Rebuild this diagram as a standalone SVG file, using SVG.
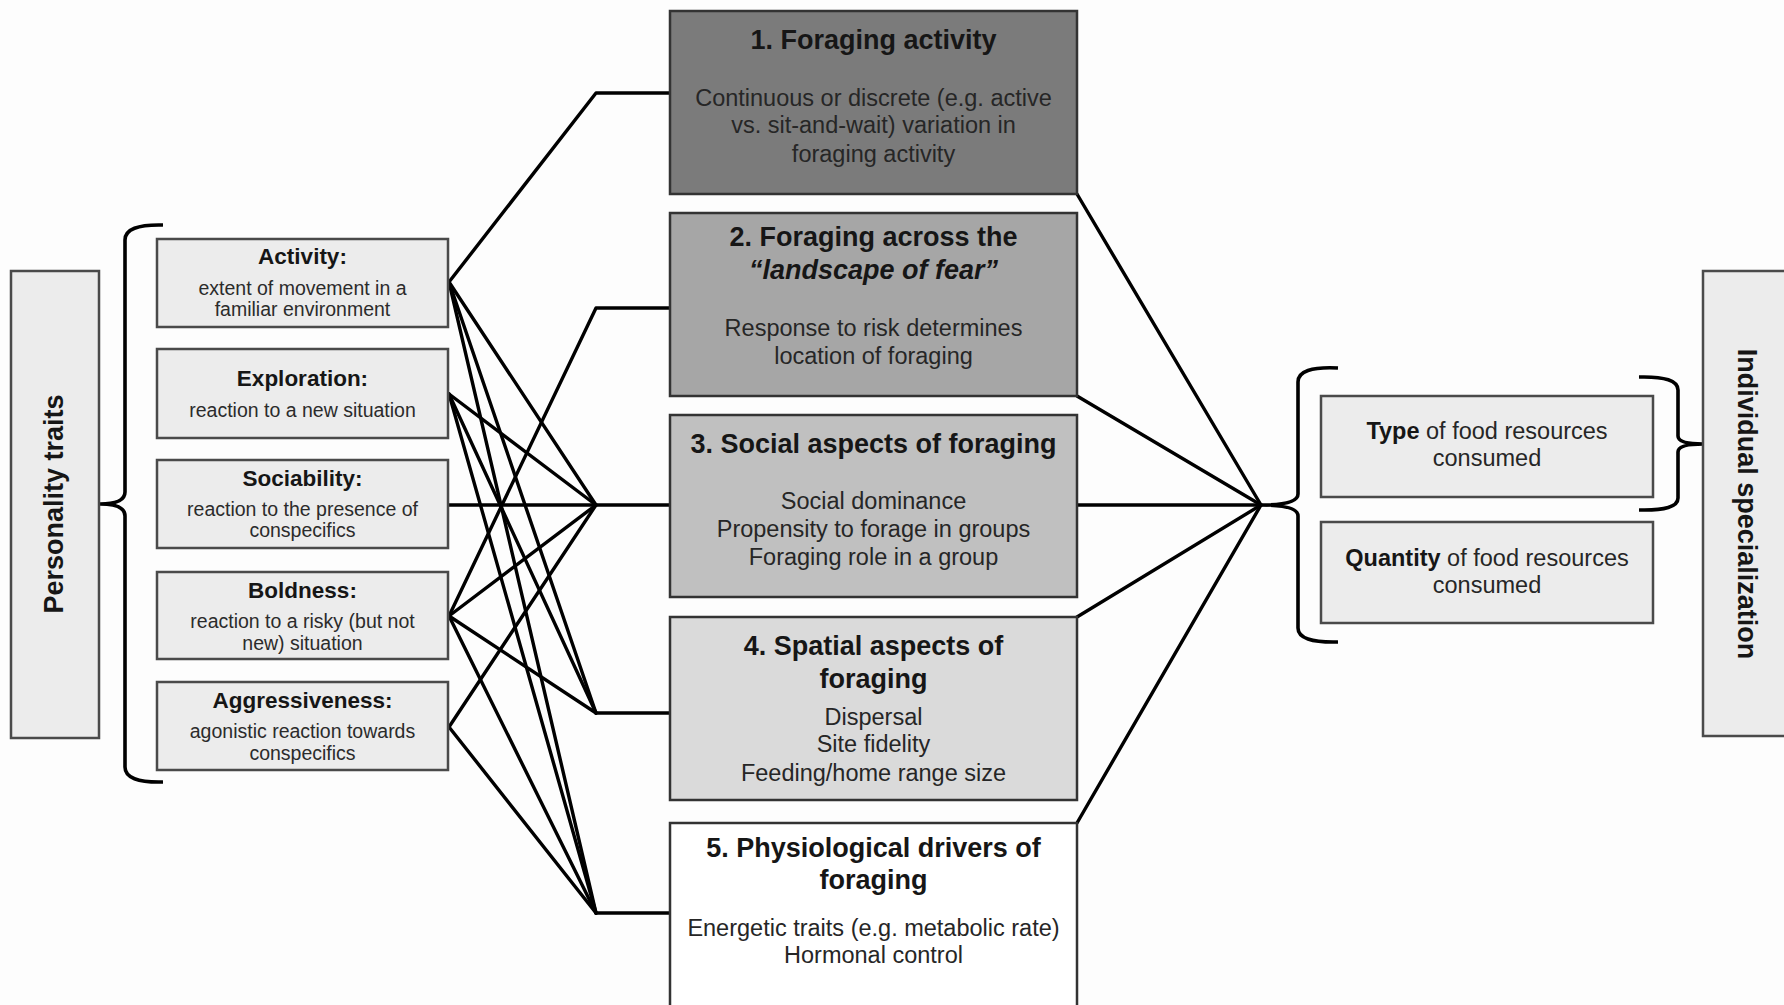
<svg xmlns="http://www.w3.org/2000/svg" width="1784" height="1005" viewBox="0 0 1784 1005">
<style>
.bg{fill:#fdfdfd}
.trait rect{fill:#ececec;stroke:#4a4a4a;stroke-width:2.5}
.side{fill:#ececec;stroke:#4a4a4a;stroke-width:2.5}
.cbox{stroke:#333;stroke-width:2.5}
.res rect{fill:#ececec;stroke:#4a4a4a;stroke-width:2.5}
text{font-family:"Liberation Sans",Arial,sans-serif;text-anchor:middle}
.tt{font-weight:bold;font-size:22.5px;fill:#161616}
.ts{font-size:19.5px;fill:#2b2b2b}
.ct{font-weight:bold;font-size:27px;fill:#161616}
.cb{font-size:23.5px;fill:#262626}
.big{font-weight:bold;font-size:27px;fill:#161616}
.rb{font-size:23.5px;fill:#262626}
.rb tspan.b{font-weight:bold;fill:#161616}
.ln{fill:none;stroke:#000;stroke-width:3.4;stroke-linejoin:round;stroke-linecap:round}
.br{fill:none;stroke:#000;stroke-width:3.6;stroke-linejoin:round}
</style>
<rect class="bg" x="0" y="0" width="1784" height="1005"/>

<g id="connectors">
  <path class="ln" d="M449,282 L596,93 L670,93"/>
  <path class="ln" d="M449,616 L596,308 L670,308"/>
  <path class="ln" d="M449,505 L670,505"/>
  <path class="ln" d="M596,713 L670,713"/>
  <path class="ln" d="M596,913 L670,913"/>
  <path class="ln" d="M449,282 L596,505"/>
  <path class="ln" d="M449,282 L596,713"/>
  <path class="ln" d="M449,282 L596,913"/>
  <path class="ln" d="M449,394 L596,505"/>
  <path class="ln" d="M449,394 L596,713"/>
  <path class="ln" d="M449,394 L596,913"/>
  <path class="ln" d="M449,616 L596,505"/>
  <path class="ln" d="M449,616 L596,713"/>
  <path class="ln" d="M449,616 L596,913"/>
  <path class="ln" d="M449,727 L596,505"/>
  <path class="ln" d="M449,727 L596,913"/>
  <path class="ln" d="M1077,194 L1261,505"/>
  <path class="ln" d="M1077,396 L1261,505"/>
  <path class="ln" d="M1077,505 L1261,505"/>
  <path class="ln" d="M1077,617 L1261,505"/>
  <path class="ln" d="M1077,823 L1261,505"/>
  <path class="br" d="M163,225 Q125,224 125,240 L125,492 Q125,504 100,504 Q125,504 125,516 L125,767 Q125,783 163,782"/>
  <path class="br" d="M1338,368 Q1298,366 1298,382 L1298,494 Q1298,505 1261,505 Q1298,505 1298,516 L1298,628 Q1298,643 1338,642"/>
  <path class="br" d="M1639,377 Q1678,376 1678,390 L1678,436 Q1678,444 1703,444 Q1678,444 1678,452 L1678,498 Q1678,511 1639,510"/>
</g>

<g id="personality-traits">
  <rect class="side" x="11" y="271" width="88" height="467"/>
  <text class="big" transform="translate(63,504) rotate(-90)">Personality traits</text>
</g>

<g id="activity" class="trait">
  <rect x="157" y="239" width="291" height="88"/>
  <text class="tt" x="302.5" y="264">Activity:</text>
  <text class="ts" x="302.5" y="295">extent of movement in a</text>
  <text class="ts" x="302.5" y="316">familiar environment</text>
</g>
<g id="exploration" class="trait">
  <rect x="157" y="349" width="291" height="89"/>
  <text class="tt" x="302.5" y="386">Exploration:</text>
  <text class="ts" x="302.5" y="417">reaction to a new situation</text>
</g>
<g id="sociability" class="trait">
  <rect x="157" y="460" width="291" height="88"/>
  <text class="tt" x="302.5" y="486">Sociability:</text>
  <text class="ts" x="302.5" y="516">reaction to the presence of</text>
  <text class="ts" x="302.5" y="537">conspecifics</text>
</g>
<g id="boldness" class="trait">
  <rect x="157" y="572" width="291" height="87"/>
  <text class="tt" x="302.5" y="598">Boldness:</text>
  <text class="ts" x="302.5" y="628">reaction to a risky (but not</text>
  <text class="ts" x="302.5" y="650">new) situation</text>
</g>
<g id="aggressiveness" class="trait">
  <rect x="157" y="682" width="291" height="88"/>
  <text class="tt" x="302.5" y="708">Aggressiveness:</text>
  <text class="ts" x="302.5" y="738">agonistic reaction towards</text>
  <text class="ts" x="302.5" y="760">conspecifics</text>
</g>

<g id="foraging-activity">
  <rect class="cbox" x="670" y="11" width="407" height="183" fill="#7b7b7b"/>
  <text class="ct" x="873.5" y="49">1. Foraging activity</text>
  <text class="cb" x="873.5" y="106">Continuous or discrete (e.g. active</text>
  <text class="cb" x="873.5" y="133">vs. sit-and-wait) variation in</text>
  <text class="cb" x="873.5" y="162">foraging activity</text>
</g>
<g id="landscape-of-fear">
  <rect class="cbox" x="670" y="213" width="407" height="183" fill="#a6a6a6"/>
  <text class="ct" x="873.5" y="246">2. Foraging across the</text>
  <text class="ct" x="873.5" y="279"><tspan font-style="italic">“landscape of fear”</tspan></text>
  <text class="cb" x="873.5" y="336">Response to risk determines</text>
  <text class="cb" x="873.5" y="364">location of foraging</text>
</g>
<g id="social-aspects">
  <rect class="cbox" x="670" y="415" width="407" height="182" fill="#c0c0c0"/>
  <text class="ct" x="873.5" y="453">3. Social aspects of foraging</text>
  <text class="cb" x="873.5" y="509">Social dominance</text>
  <text class="cb" x="873.5" y="537">Propensity to forage in groups</text>
  <text class="cb" x="873.5" y="565">Foraging role in a group</text>
</g>
<g id="spatial-aspects">
  <rect class="cbox" x="670" y="617" width="407" height="183" fill="#dadada"/>
  <text class="ct" x="873.5" y="655">4. Spatial aspects of</text>
  <text class="ct" x="873.5" y="688">foraging</text>
  <text class="cb" x="873.5" y="725">Dispersal</text>
  <text class="cb" x="873.5" y="752">Site fidelity</text>
  <text class="cb" x="873.5" y="781">Feeding/home range size</text>
</g>
<g id="physiological-drivers">
  <rect class="cbox" x="670" y="823" width="407" height="200" fill="#ffffff"/>
  <text class="ct" x="873.5" y="857">5. Physiological drivers of</text>
  <text class="ct" x="873.5" y="889">foraging</text>
  <text class="cb" x="873.5" y="936">Energetic traits (e.g. metabolic rate)</text>
  <text class="cb" x="873.5" y="963">Hormonal control</text>
</g>

<g id="type-resources" class="res">
  <rect x="1321" y="396" width="332" height="101"/>
  <text class="rb" x="1487" y="439"><tspan class="b">Type</tspan> of food resources</text>
  <text class="rb" x="1487" y="466">consumed</text>
</g>
<g id="quantity-resources" class="res">
  <rect x="1321" y="522" width="332" height="101"/>
  <text class="rb" x="1487" y="566"><tspan class="b">Quantity</tspan> of food resources</text>
  <text class="rb" x="1487" y="593">consumed</text>
</g>

<g id="individual-specialization">
  <rect class="side" x="1703" y="271" width="95" height="465"/>
  <text class="big" transform="translate(1738,504) rotate(90)">Individual specialization</text>
</g>
</svg>
